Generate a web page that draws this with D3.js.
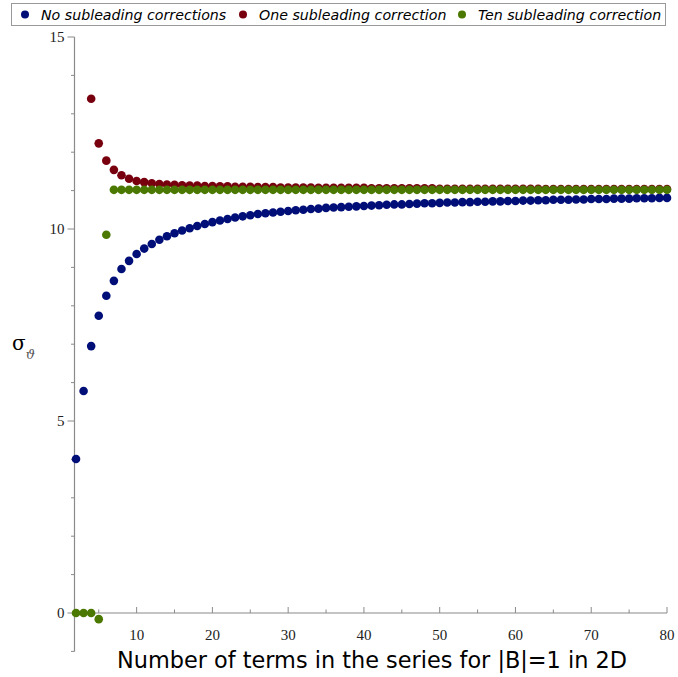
<!DOCTYPE html>
<html>
<head>
<meta charset="utf-8">
<script src="https://cdn.jsdelivr.net/npm/d3@7"></script>
<style>
  body { margin: 0; background: #fff; }
  .tickLabel { font-family: "Liberation Serif", "DejaVu Serif", serif; font-size: 15px; fill: #222; }
  .legendText { font-family: "DejaVu Sans", sans-serif; font-style: italic; font-size: 14.2px; fill: #000; }
</style>
</head>
<body>
<div id="svgContainer"></div>
<script>
// data
const seriesNames = ["No subleading corrections", "One subleading correction", "Ten subleading correction"];
const seriesColors = ["#000E78", "#78000E", "#4A7800"];

// no subleading corrections, n = 2..80
const blueStart = 2;
const blueValues = [4.01, 5.78, 6.95, 7.74, 8.26, 8.65, 8.96, 9.17, 9.35, 9.49,
  9.61, 9.72, 9.81, 9.89, 9.96, 10.02, 10.08, 10.13, 10.18, 10.22,
  10.26, 10.30, 10.33, 10.36, 10.39, 10.41, 10.43, 10.45, 10.47, 10.49,
  10.50, 10.52, 10.53, 10.55, 10.56, 10.57, 10.58, 10.59, 10.60, 10.61,
  10.62, 10.63, 10.64, 10.64, 10.65, 10.66, 10.67, 10.67, 10.68, 10.69,
  10.69, 10.70, 10.70, 10.71, 10.71, 10.72, 10.72, 10.73, 10.73, 10.74,
  10.74, 10.75, 10.75, 10.76, 10.76, 10.76, 10.77, 10.77, 10.78, 10.78,
  10.78, 10.79, 10.79, 10.79, 10.80, 10.80, 10.80, 10.81, 10.81];

// one subleading correction, n = 4..80
const redStart = 4;
const redValues = [13.39, 12.23, 11.78, 11.54, 11.40, 11.31, 11.25, 11.22, 11.19, 11.17,
  11.16, 11.15, 11.14, 11.13, 11.13, 11.12, 11.12, 11.11, 11.11, 11.10,
  11.10, 11.10, 11.09, 11.09, 11.09, 11.08, 11.08, 11.08, 11.08, 11.08,
  11.07, 11.07, 11.07, 11.07, 11.07, 11.07, 11.07, 11.06, 11.06, 11.06,
  11.06, 11.06, 11.06, 11.06, 11.06, 11.06, 11.05, 11.05, 11.05, 11.05,
  11.05, 11.05, 11.05, 11.05, 11.05, 11.05, 11.05, 11.05, 11.05, 11.05,
  11.04, 11.04, 11.04, 11.04, 11.04, 11.04, 11.04, 11.04, 11.04, 11.04,
  11.04, 11.04, 11.04, 11.04, 11.04, 11.04, 11.04];

// ten subleading corrections, n = 2..80
const greenStart = 2;
const greenValues = [0, 0, 0, -0.16, 9.85, 11.02, 11.02, 11.02, 11.02, 11.02,
  11.02, 11.02, 11.02, 11.02, 11.02, 11.02, 11.02, 11.02, 11.02, 11.02,
  11.02, 11.02, 11.02, 11.02, 11.02, 11.02, 11.02, 11.02, 11.02, 11.02,
  11.02, 11.02, 11.02, 11.02, 11.02, 11.02, 11.02, 11.02, 11.02, 11.02,
  11.02, 11.02, 11.02, 11.02, 11.02, 11.02, 11.02, 11.02, 11.02, 11.02,
  11.02, 11.02, 11.02, 11.02, 11.02, 11.02, 11.02, 11.02, 11.02, 11.02,
  11.02, 11.02, 11.02, 11.02, 11.02, 11.02, 11.02, 11.02, 11.02, 11.02,
  11.02, 11.02, 11.02, 11.02, 11.02, 11.02, 11.02, 11.02, 11.02];

const xMajorTicks = [10, 20, 30, 40, 50, 60, 70, 80];
const xMinorTicks = [5, 15, 25, 35, 45, 55, 65, 75];
const yMajorTicks = [0, 5, 10, 15];
const yMinorTicks = [-1, 1, 2, 3, 4, 6, 7, 8, 9, 11, 12, 13, 14];

// setting variables
const w = 678, h = 677, r = 4.3, axisColor = "#8a8a8a";

const svg = d3.select("#svgContainer")
  .append("svg")
  .attr("width", w)
  .attr("height", h);

const x = d3.scaleLinear().domain([1.8, 80]).range([74.5, 667]);
const y = d3.scaleLinear().domain([-1, 15]).range([651.4, 37]);

// axes lines
svg.append("line")
  .attr("x1", x(1.8)).attr("x2", x(80))
  .attr("y1", y(0)).attr("y2", y(0))
  .attr("stroke", axisColor).attr("stroke-width", 1.2);
svg.append("line")
  .attr("x1", x(1.8)).attr("x2", x(1.8))
  .attr("y1", y(-1)).attr("y2", y(15))
  .attr("stroke", axisColor).attr("stroke-width", 1.2);

// x ticks point up from the axis
svg.selectAll(".xMajor").data(xMajorTicks).enter().append("line")
  .attr("x1", d => x(d)).attr("x2", d => x(d))
  .attr("y1", y(0)).attr("y2", y(0) - 6)
  .attr("stroke", axisColor);
svg.selectAll(".xMinor").data(xMinorTicks).enter().append("line")
  .attr("x1", d => x(d)).attr("x2", d => x(d))
  .attr("y1", y(0)).attr("y2", y(0) - 3.5)
  .attr("stroke", axisColor);
svg.selectAll(".xLabel").data(xMajorTicks).enter().append("text")
  .attr("class", "tickLabel")
  .attr("x", d => x(d))
  .attr("y", y(0) + 27)
  .attr("text-anchor", "middle")
  .text(d => d);

// y ticks point left
svg.selectAll(".yMajor").data(yMajorTicks).enter().append("line")
  .attr("x1", x(1.8) - 7).attr("x2", x(1.8))
  .attr("y1", d => y(d)).attr("y2", d => y(d))
  .attr("stroke", axisColor);
svg.selectAll(".yMinor").data(yMinorTicks).enter().append("line")
  .attr("x1", x(1.8) - 3.5).attr("x2", x(1.8))
  .attr("y1", d => y(d)).attr("y2", d => y(d))
  .attr("stroke", axisColor);
svg.selectAll(".yLabel").data(yMajorTicks).enter().append("text")
  .attr("class", "tickLabel")
  .attr("x", x(1.8) - 10)
  .attr("y", d => y(d) + 5)
  .attr("text-anchor", "end")
  .text(d => d);

// points
const allSeries = [
  { start: blueStart, values: blueValues, color: seriesColors[0] },
  { start: redStart, values: redValues, color: seriesColors[1] },
  { start: greenStart, values: greenValues, color: seriesColors[2] }
];
allSeries.forEach(s => {
  svg.append("g").selectAll("circle")
    .data(s.values)
    .enter()
    .append("circle")
    .attr("cx", (d, i) => x(s.start + i))
    .attr("cy", d => y(d))
    .attr("r", r)
    .attr("fill", s.color);
});

// legend
const legend = svg.append("g");
legend.append("rect")
  .attr("x", 11.5).attr("y", 3.5)
  .attr("width", 654).attr("height", 22)
  .attr("fill", "#fff")
  .attr("stroke", "#999");
const legendX = [25, 243, 462];
seriesNames.forEach((name, i) => {
  legend.append("circle")
    .attr("cx", legendX[i]).attr("cy", 14.5)
    .attr("r", 4)
    .attr("fill", seriesColors[i]);
  legend.append("text")
    .attr("class", "legendText")
    .attr("x", legendX[i] + 16).attr("y", 19.5)
    .text(name);
});

// axis titles
svg.append("text")
  .attr("x", 372).attr("y", 668)
  .attr("text-anchor", "middle")
  .style("font-family", "DejaVu Sans, sans-serif")
  .style("font-size", "22.4px")
  .text("Number of terms in the series for |B|=1 in 2D");

const yTitle = svg.append("text")
  .attr("x", 12).attr("y", 350)
  .style("font-family", "DejaVu Serif, serif");
yTitle.append("tspan")
  .style("font-size", "20px")
  .text("σ");
yTitle.append("tspan")
  .attr("dy", 9)
  .style("font-size", "13px")
  .style("font-style", "italic")
  .style("fill", "#555")
  .text("ϑ");
</script>
</body>
</html>
